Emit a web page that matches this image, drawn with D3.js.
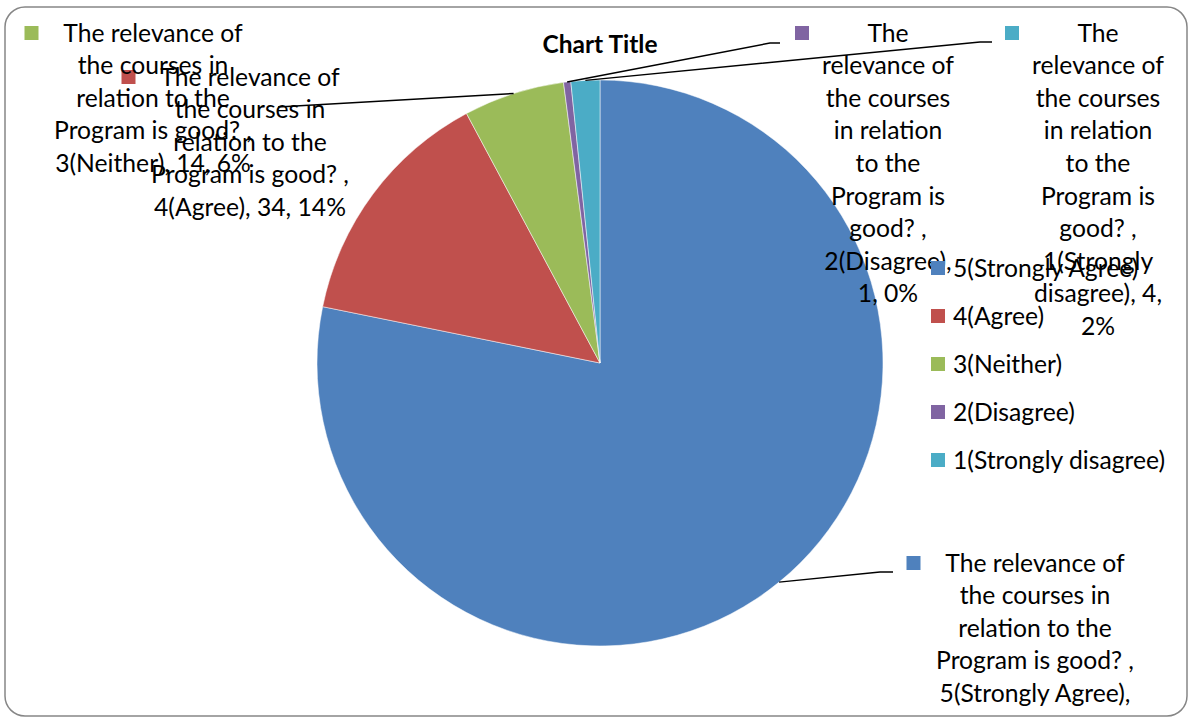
<!DOCTYPE html>
<html>
<head>
<meta charset="utf-8">
<script src="https://cdn.jsdelivr.net/npm/d3@7.9.0/dist/d3.min.js"></script>
<style>
  body { margin: 0; background: #fff; }
  svg { display: block; font-family: Lato, "Open Sans", sans-serif; }
</style>
</head>
<body>
<div id="chart"></div>
<script>
// --- data ---
const seriesName = 'The relevance of the courses in relation to the Program is good? ';
const categories = ['5(Strongly Agree)', '4(Agree)', '3(Neither)', '2(Disagree)', '1(Strongly disagree)'];
const counts = [190, 34, 14, 1, 4];
const colors = ['#4F81BD', '#C0504D', '#9BBB59', '#8064A2', '#4BACC6'];
const chartTitle = 'Chart Title';

const width = 1188;
const height = 717;
const fontSize = 24.7;
const lineHeight = 32.6;

// where each data label box sits (text column centre, first line centre, wrap width)
const labelLayout = [
  { cx: 1035, y: 563, wrap: 205, elbow: [[880, 572], [893, 572]] },
  { cx: 250, y: 77, wrap: 205, elbow: null },
  { cx: 153, y: 33, wrap: 205, elbow: [[278, 107]] },
  { cx: 888, y: 33, wrap: 134, elbow: [[770, 43], [780, 43]] },
  { cx: 1098, y: 33, wrap: 134, elbow: [[980, 42], [992, 42]] },
];

const data = categories.map((c, i) => ({ category: c, value: counts[i], color: colors[i] }));
const total = d3.sum(counts);
const pct = d3.format('.0%');

const svg = d3.select('#chart')
  .append('svg')
  .attr('width', width)
  .attr('height', height);

// chart area frame
svg.append('rect')
  .attr('x', 5).attr('y', 7)
  .attr('width', 1182).attr('height', 709)
  .attr('rx', 20)
  .attr('fill', '#fff')
  .attr('stroke', '#868686')
  .attr('stroke-width', 1.5);

svg.append('text')
  .attr('x', 600).attr('y', 44)
  .attr('dy', '0.35em')
  .attr('text-anchor', 'middle')
  .attr('font-weight', 'bold')
  .attr('font-size', 24.5)
  .text(chartTitle);

const cx = 600, cy = 363, r = 283;
const pie = d3.pie().sort(null).value(d => d.value);
const arc = d3.arc().innerRadius(0).outerRadius(r);
const arcs = pie(data);

const g = svg.append('g').attr('transform', `translate(${cx},${cy})`);
g.selectAll('path')
  .data(arcs)
  .join('path')
  .attr('d', arc)
  .attr('fill', d => d.data.color)
  .attr('stroke', '#fff')
  .attr('stroke-width', 0.5);

// leader lines from the slice edge to the label
const edgePoint = (a) => {
  const m = (a.startAngle + a.endAngle) / 2;
  return [cx + r * Math.sin(m), cy - r * Math.cos(m)];
};
svg.append('g')
  .selectAll('path')
  .data(arcs.filter((a, i) => labelLayout[i].elbow))
  .join('path')
  .attr('d', a => d3.line()([edgePoint(a), ...labelLayout[a.index].elbow]))
  .attr('fill', 'none')
  .attr('stroke', '#000')
  .attr('stroke-width', 1.5);

// text measuring for wrapping
const measurer = svg.append('text').attr('font-size', fontSize).attr('visibility', 'hidden');
function textWidth(s) {
  measurer.text(s);
  return measurer.node().getComputedTextLength();
}
function wrap(text, maxW) {
  const words = text.split(' ');
  const lines = [];
  let cur = '';
  for (const w of words) {
    const next = cur ? cur + ' ' + w : w;
    if (cur && textWidth(next) > maxW) {
      lines.push(cur);
      cur = w;
    } else {
      cur = next;
    }
  }
  if (cur) lines.push(cur);
  return lines;
}

const labels = svg.append('g');
arcs.forEach((a, i) => {
  const lay = labelLayout[i];
  const txt = `${seriesName}, ${a.data.category}, ${a.data.value}, ${pct(a.data.value / total)}`;
  const lines = wrap(txt, lay.wrap);
  const lg = labels.append('g');
  lg.append('rect')
    .attr('x', lay.cx - lay.wrap / 2 - 26)
    .attr('y', lay.y - 7)
    .attr('width', 14).attr('height', 14)
    .attr('fill', a.data.color);
  lg.append('text')
    .attr('font-size', fontSize)
    .attr('text-anchor', 'middle')
    .selectAll('tspan')
    .data(lines)
    .join('tspan')
    .attr('x', lay.cx)
    .attr('y', (d, j) => lay.y + j * lineHeight)
    .attr('dy', '0.35em')
    .text(d => d);
});
measurer.remove();

// legend
const legend = svg.append('g').attr('transform', 'translate(931,268)');
const rows = legend.selectAll('g')
  .data(data)
  .join('g')
  .attr('transform', (d, i) => `translate(0,${i * 48})`);
rows.append('rect')
  .attr('y', -7).attr('width', 14).attr('height', 14)
  .attr('fill', d => d.color);
rows.append('text')
  .attr('x', 22)
  .attr('dy', '0.35em')
  .attr('font-size', fontSize)
  .text(d => d.category);
</script>
</body>
</html>
